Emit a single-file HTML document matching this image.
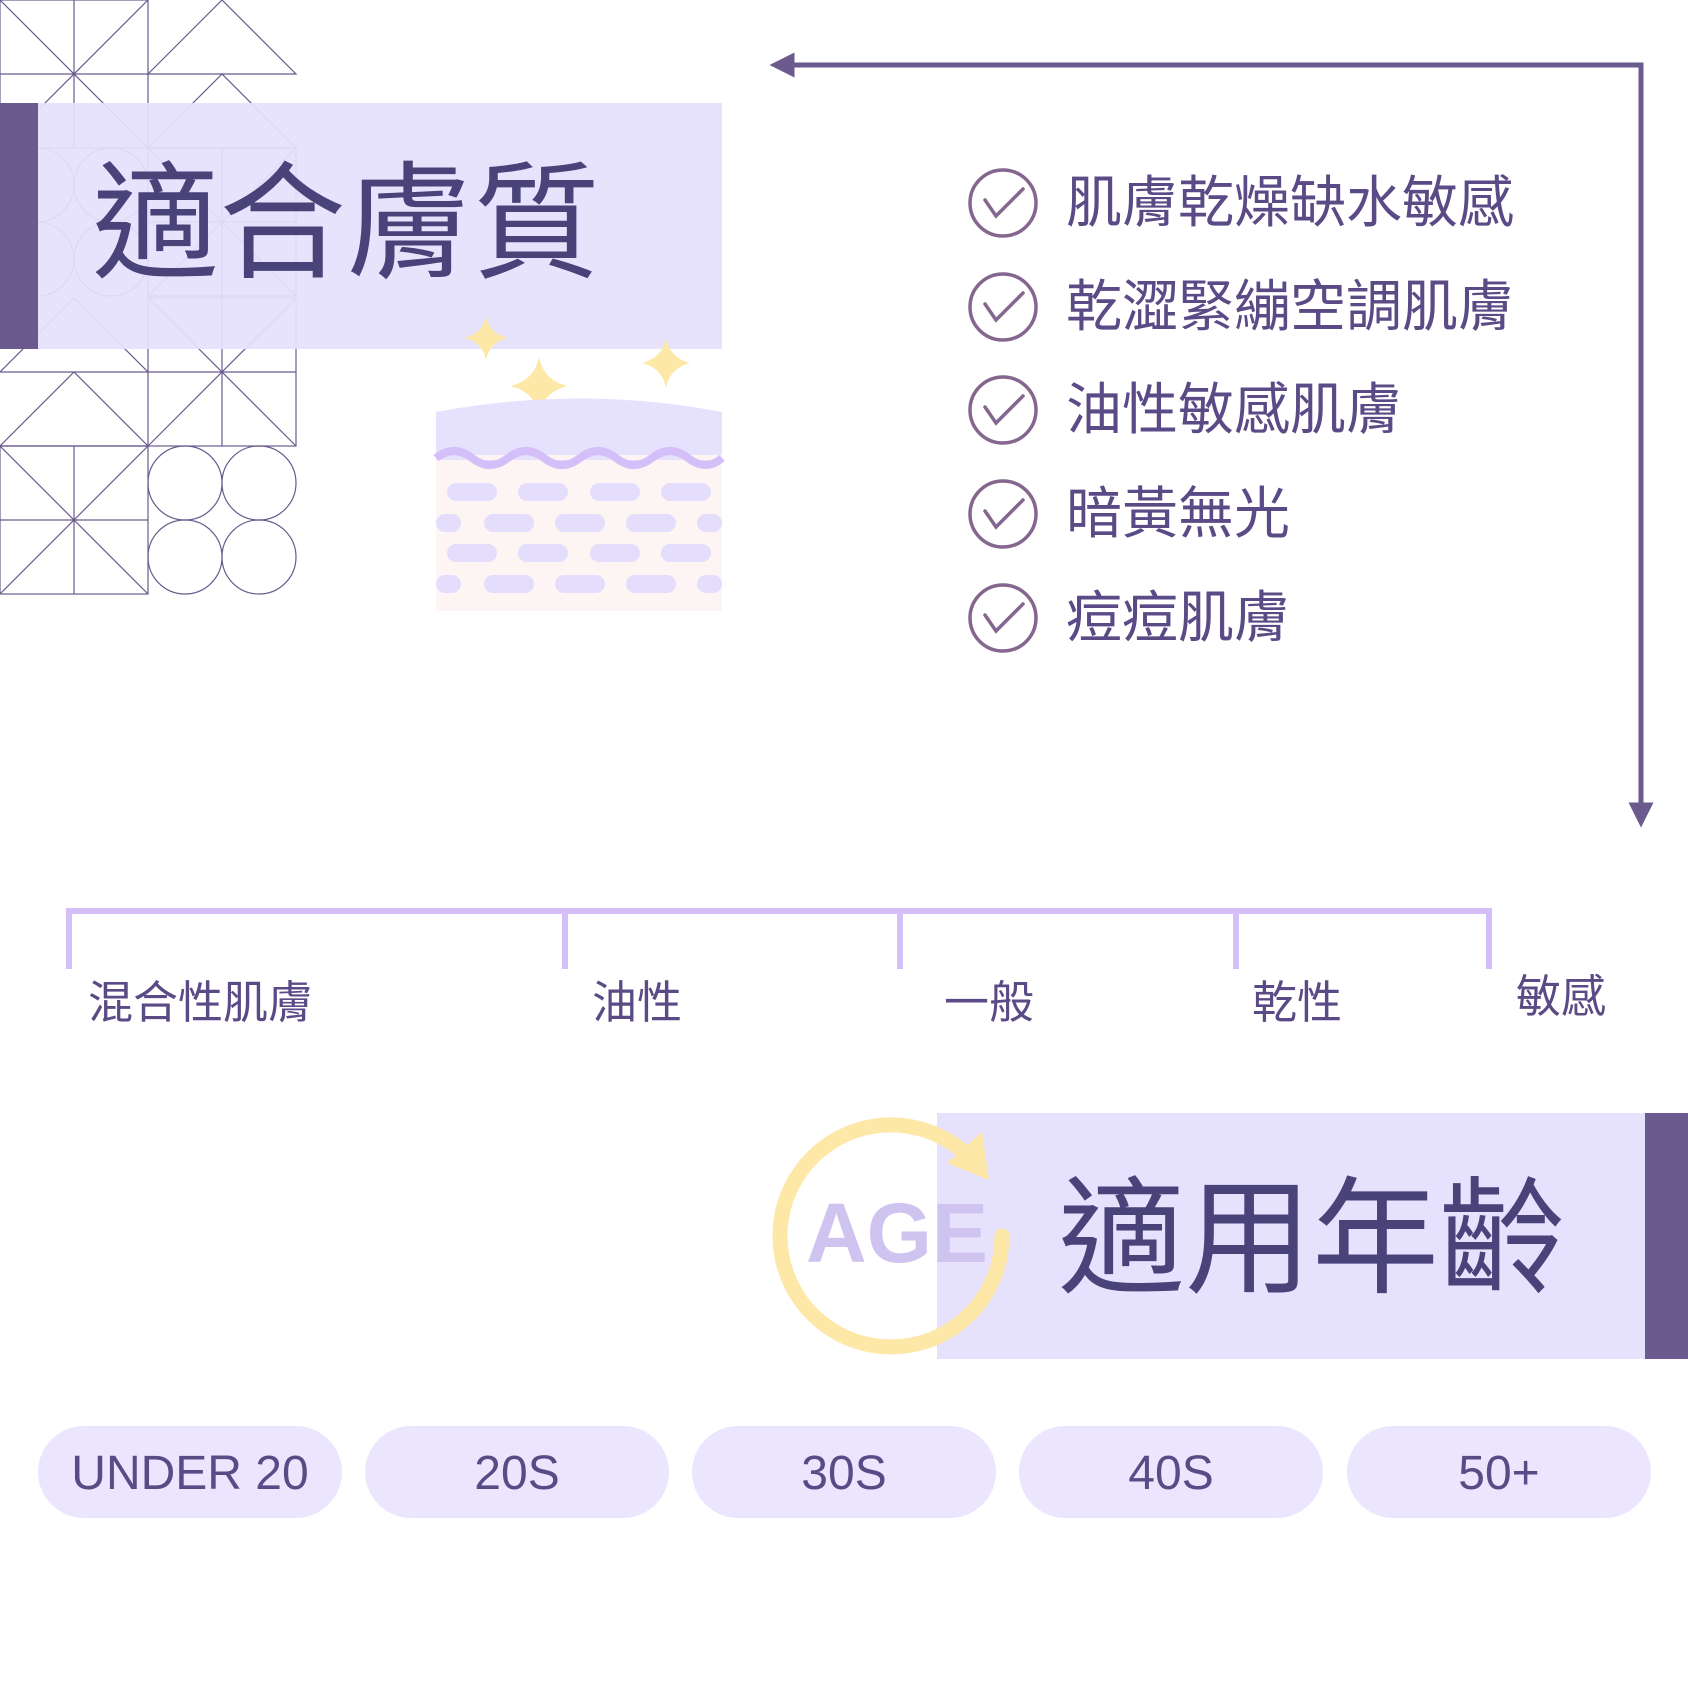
<!DOCTYPE html>
<html><head><meta charset="utf-8"><style>
html,body{margin:0;padding:0;background:#fff}
svg{display:block}
text{font-family:"Liberation Sans","Noto Sans CJK TC",sans-serif}
</style></head><body>
<svg width="1688" height="1688" viewBox="0 0 1688 1688" xmlns="http://www.w3.org/2000/svg">
<defs>
<marker id="ah" viewBox="0 0 10 10" refX="5" refY="5" markerWidth="5" markerHeight="5" orient="auto-start-reverse"><path d="M0,0 L10,5 L0,10 z" fill="#6a5a8e"/></marker>
</defs>
<g fill="none" stroke="#6a5a8e" stroke-width="1.2">
  <rect x="0" y="0" width="148" height="148"/><line x1="0" y1="0" x2="148" y2="148"/><line x1="148" y1="0" x2="0" y2="148"/><line x1="74" y1="0" x2="74" y2="148"/><line x1="0" y1="74" x2="148" y2="74"/>
  <path d="M148,74 L222,0 L296,74 Z M148,148 L222,74 L296,148 Z"/>
  <circle cx="37" cy="185" r="37"/><circle cx="111" cy="185" r="37"/><circle cx="37" cy="259" r="37"/><circle cx="111" cy="259" r="37"/>
  <rect x="148" y="148" width="148" height="148"/><line x1="148" y1="148" x2="296" y2="296"/><line x1="296" y1="148" x2="148" y2="296"/><line x1="222" y1="148" x2="222" y2="296"/><line x1="148" y1="222" x2="296" y2="222"/>
  <path d="M0,372 L74,298 L148,372 Z M0,446 L74,372 L148,446 Z"/>
  <rect x="148" y="298" width="148" height="148"/><line x1="148" y1="298" x2="296" y2="446"/><line x1="296" y1="298" x2="148" y2="446"/><line x1="222" y1="298" x2="222" y2="446"/><line x1="148" y1="372" x2="296" y2="372"/>
  <rect x="0" y="446" width="148" height="148"/><line x1="0" y1="446" x2="148" y2="594"/><line x1="148" y1="446" x2="0" y2="594"/><line x1="74" y1="446" x2="74" y2="594"/><line x1="0" y1="520" x2="148" y2="520"/>
  <circle cx="185" cy="483" r="37"/><circle cx="259" cy="483" r="37"/><circle cx="185" cy="557" r="37"/><circle cx="259" cy="557" r="37"/>
</g>
<rect x="0" y="103" width="722" height="246" fill="#e6e1fd" opacity="0.93"/>
<rect x="0" y="103" width="38" height="246" fill="#6a5a8e"/>
<text x="92" y="268" font-size="127" fill="#49437a">適合膚質</text>
<g fill="#fde8a8">
<path d="M486,316 Q490,334 508,338 Q490,342 486,360 Q482,342 464,338 Q482,334 486,316Z"/>
<path d="M539,357 Q544,381 568,386 Q544,391 539,415 Q534,391 510,386 Q534,381 539,357Z"/>
<path d="M666,338 Q670,358 690,363 Q670,368 666,388 Q662,368 642,363 Q662,358 666,338Z"/>
</g>
<path d="M436,412 Q580,385 722,412 L722,460 L436,460 Z" fill="#e6e1fd"/>
<rect x="436" y="455" width="286" height="156" fill="#fdf5f3"/>
<path d="M436,458 q18,-14 36,0 t36,0 t36,0 t36,0 t36,0 t36,0 t36,0 t36,0 L722,460 L436,460Z" fill="#e6e1fd"/>
<path d="M436,458 q18,-14 36,0 t36,0 t36,0 t36,0 t36,0 t36,0 t36,0 t34,0" fill="none" stroke="#d4bff8" stroke-width="8"/>
<g fill="#e4defc">
<rect x="447" y="483" width="50" height="18" rx="9"/><rect x="518" y="483" width="50" height="18" rx="9"/><rect x="590" y="483" width="50" height="18" rx="9"/><rect x="661" y="483" width="50" height="18" rx="9"/>
<rect x="436" y="514" width="25" height="18" rx="9"/><rect x="484" y="514" width="50" height="18" rx="9"/><rect x="555" y="514" width="50" height="18" rx="9"/><rect x="626" y="514" width="50" height="18" rx="9"/><rect x="697" y="514" width="25" height="18" rx="9"/>
<rect x="447" y="544" width="50" height="18" rx="9"/><rect x="518" y="544" width="50" height="18" rx="9"/><rect x="590" y="544" width="50" height="18" rx="9"/><rect x="661" y="544" width="50" height="18" rx="9"/>
<rect x="436" y="575" width="25" height="18" rx="9"/><rect x="484" y="575" width="50" height="18" rx="9"/><rect x="555" y="575" width="50" height="18" rx="9"/><rect x="626" y="575" width="50" height="18" rx="9"/><rect x="697" y="575" width="25" height="18" rx="9"/>
</g>
<path d="M782,65 L1641,65 L1641,815" fill="none" stroke="#6a5a8e" stroke-width="5" marker-start="url(#ah)" marker-end="url(#ah)"/>
<g fill="none" stroke="#84668f" stroke-width="3.5" stroke-linecap="round">
<g transform="translate(1003,203)"><circle r="33"/><path d="M-18,-3 L-7,13 L20,-14"/></g>
<g transform="translate(1003,307)"><circle r="33"/><path d="M-18,-3 L-7,13 L20,-14"/></g>
<g transform="translate(1003,410)"><circle r="33"/><path d="M-18,-3 L-7,13 L20,-14"/></g>
<g transform="translate(1003,514)"><circle r="33"/><path d="M-18,-3 L-7,13 L20,-14"/></g>
<g transform="translate(1003,618)"><circle r="33"/><path d="M-18,-3 L-7,13 L20,-14"/></g>
</g>
<g font-size="56" fill="#5a4a85">
<text x="1066" y="222">肌膚乾燥缺水敏感</text>
<text x="1066" y="326">乾澀緊繃空調肌膚</text>
<text x="1066" y="429">油性敏感肌膚</text>
<text x="1066" y="533">暗黃無光</text>
<text x="1066" y="637">痘痘肌膚</text>
</g>
<g fill="none" stroke="#d4bff8" stroke-width="6">
<path d="M69,969 L69,911 L1489,911 L1489,969"/>
<line x1="565" y1="911" x2="565" y2="969"/><line x1="900" y1="911" x2="900" y2="969"/><line x1="1236" y1="911" x2="1236" y2="969"/>
</g>
<g font-size="45" fill="#5a4a85">
<text x="88" y="1018">混合性肌膚</text>
<text x="592" y="1018">油性</text>
<text x="944" y="1018">一般</text>
<text x="1252" y="1018">乾性</text>
<text x="1516" y="1012">敏感</text>
</g>
<rect x="937" y="1113" width="751" height="246" fill="#e6e1fd"/>
<rect x="1645" y="1113" width="43" height="246" fill="#6a5a8e"/>
<path d="M1002,1236 A111,111 0 1 1 967,1155" fill="none" stroke="#fde8a8" stroke-width="15" stroke-linecap="round"/>
<path d="M982,1132 L989,1180 L947,1163 Z" fill="#fde8a8"/>
<text x="806" y="1262" font-size="84" font-weight="bold" fill="#cfc3f0">AGE</text>
<text x="1058" y="1283" font-size="127" fill="#49437a">適用年齡</text>
<g fill="#ebe6fd">
<rect x="38" y="1426" width="304" height="92" rx="46"/><rect x="365" y="1426" width="304" height="92" rx="46"/><rect x="692" y="1426" width="304" height="92" rx="46"/><rect x="1019" y="1426" width="304" height="92" rx="46"/><rect x="1347" y="1426" width="304" height="92" rx="46"/>
</g>
<g font-size="48" fill="#5a4a85" text-anchor="middle">
<text x="190" y="1489">UNDER 20</text><text x="517" y="1489">20S</text><text x="844" y="1489">30S</text><text x="1171" y="1489">40S</text><text x="1499" y="1489">50+</text>
</g>
</svg>
</body></html>
